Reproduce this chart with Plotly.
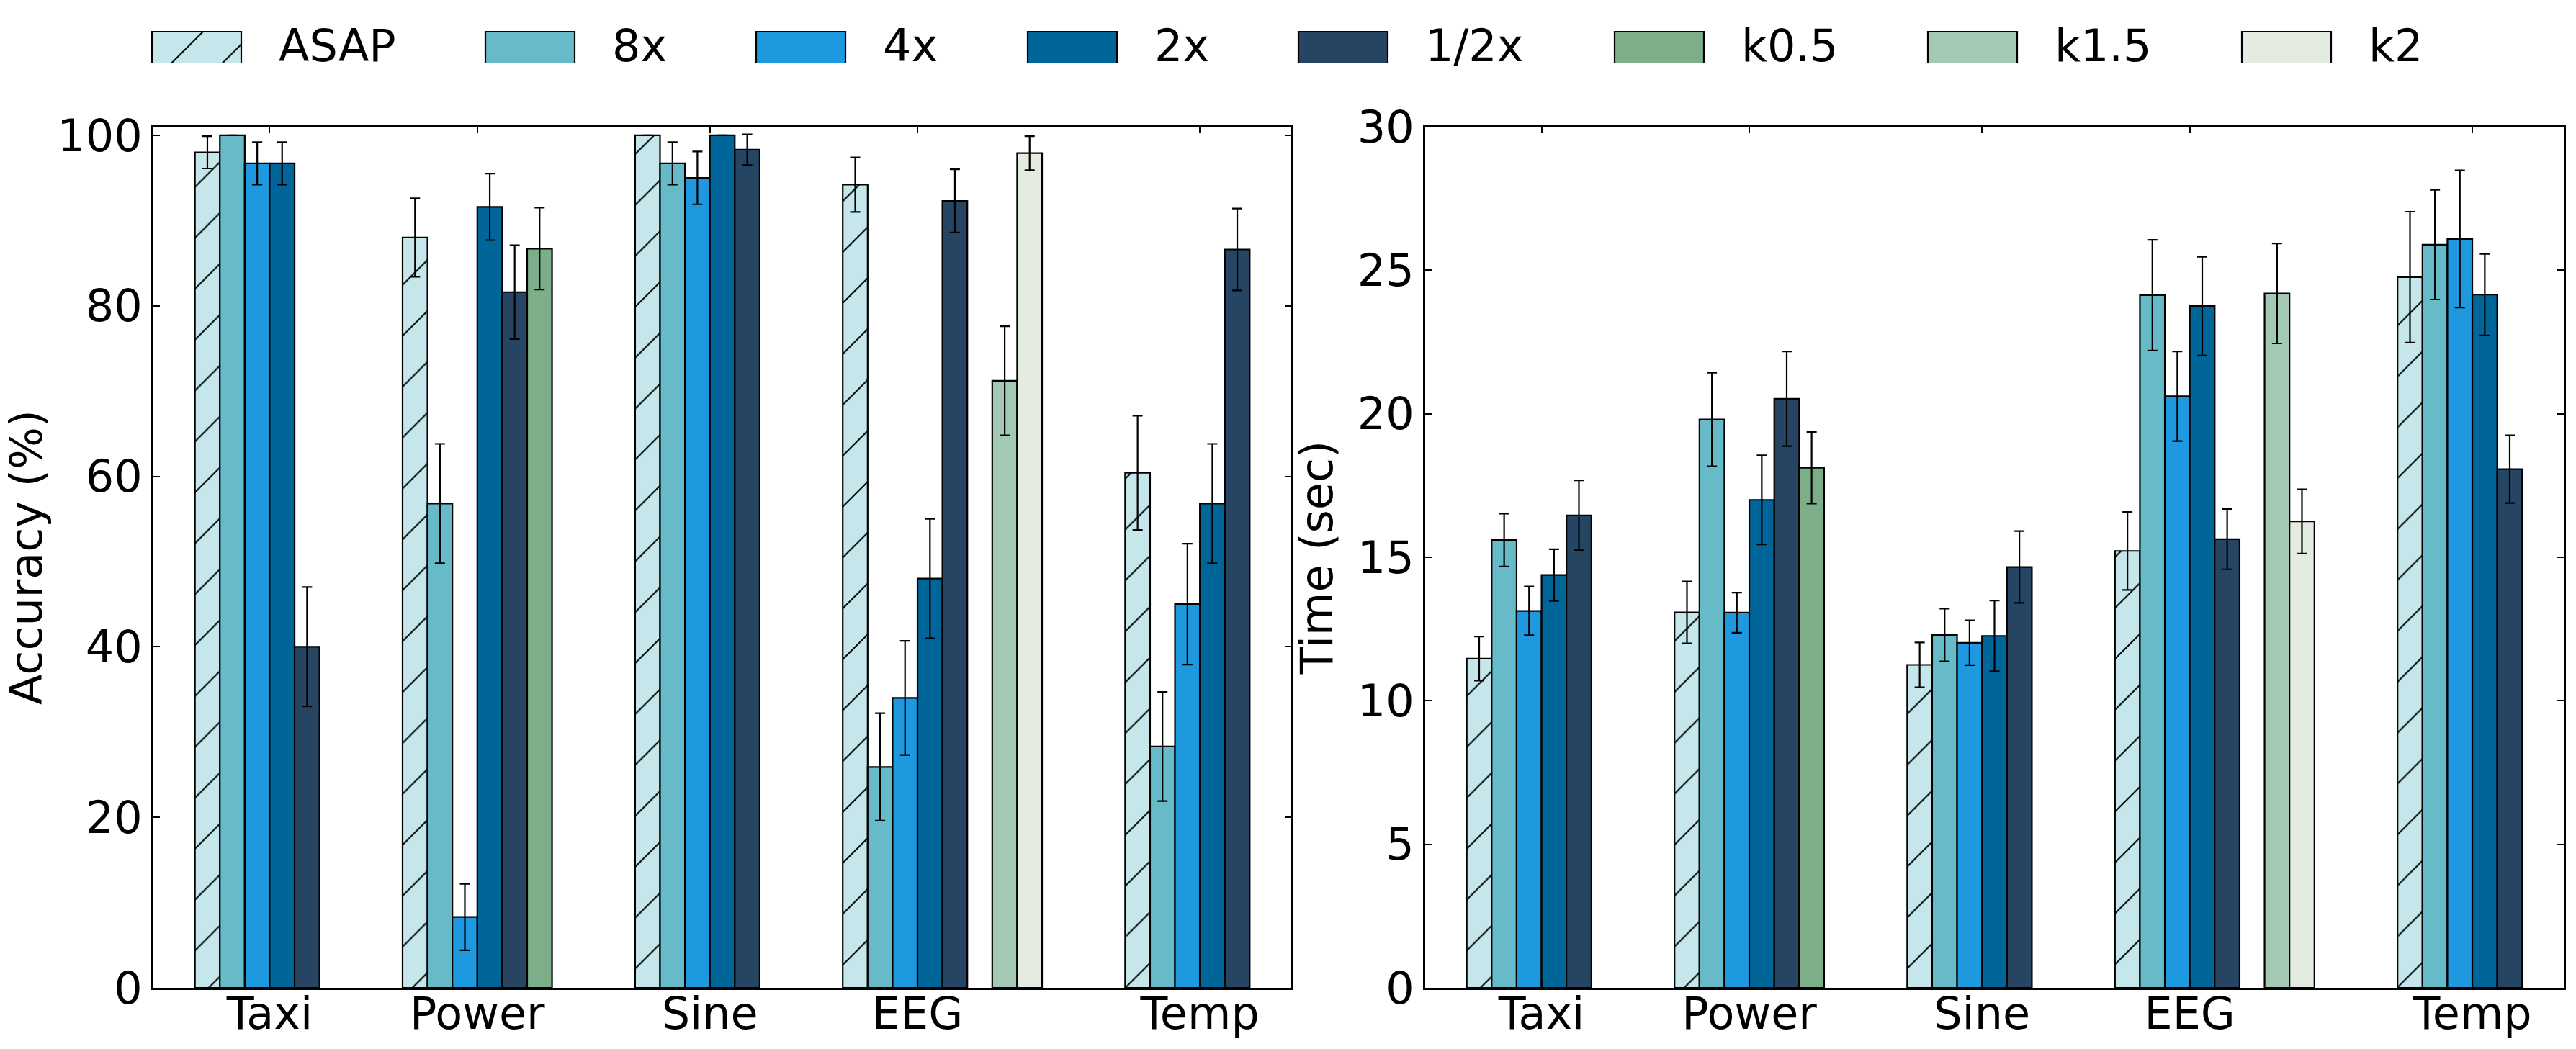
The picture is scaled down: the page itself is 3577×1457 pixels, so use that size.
import plotly.graph_objects as go

W, H = 3577, 1457

categories = ["Taxi", "Power", "Sine", "EEG", "Temp"]
series_names = ["ASAP", "8x", "4x", "2x", "1/2x", "k0.5", "k1.5", "k2"]
series_colors = ["#C5E6EB", "#67BBC8", "#1E98DF", "#006699",
                 "#264563", "#7BAE89", "#A3C9B5", "#E4EBE1"]

# Accuracy (%) per category: Taxi, Power, Sine, EEG, Temp
acc_asap = [98.0, 88.0, 100.0, 94.2, 60.4]
acc_8x = [100.0, 56.8, 96.7, 25.9, 28.3]
acc_4x = [96.7, 8.3, 95.0, 34.0, 45.0]
acc_2x = [96.7, 91.6, 100.0, 48.0, 56.8]
acc_half = [40.0, 81.6, 98.3, 92.3, 86.6]
acc_k05 = [None, 86.7, None, None, None]
acc_k15 = [None, None, None, 71.2, None]
acc_k2 = [None, None, None, 97.9, None]

acc_err_asap = [1.9, 4.6, 0.0, 3.2, 6.7]
acc_err_8x = [0.0, 7.0, 2.5, 6.3, 6.4]
acc_err_4x = [2.5, 3.9, 3.1, 6.7, 7.1]
acc_err_2x = [2.5, 3.9, 0.0, 7.0, 7.0]
acc_err_half = [7.0, 5.5, 1.8, 3.7, 4.8]
acc_err_k05 = [None, 4.8, None, None, None]
acc_err_k15 = [None, None, None, 6.4, None]
acc_err_k2 = [None, None, None, 2.0, None]

# Time (sec)
time_asap = [11.47, 13.08, 11.25, 15.22, 24.76]
time_8x = [15.60, 19.80, 12.29, 24.13, 25.89]
time_4x = [13.13, 13.07, 12.02, 20.61, 26.09]
time_2x = [14.38, 17.00, 12.26, 23.75, 24.15]
time_half = [16.46, 20.52, 14.66, 15.63, 18.07]
time_k05 = [None, 18.12, None, None, None]
time_k15 = [None, None, None, 24.19, None]
time_k2 = [None, None, None, 16.25, None]

time_err_asap = [0.77, 1.08, 0.78, 1.36, 2.28]
time_err_8x = [0.92, 1.63, 0.92, 1.93, 1.91]
time_err_4x = [0.85, 0.70, 0.78, 1.56, 2.39]
time_err_2x = [0.90, 1.55, 1.23, 1.72, 1.42]
time_err_half = [1.22, 1.65, 1.25, 1.05, 1.18]
time_err_k05 = [None, 1.25, None, None, None]
time_err_k15 = [None, None, None, 1.74, None]
time_err_k2 = [None, None, None, 1.12, None]

acc_values = [acc_asap, acc_8x, acc_4x, acc_2x, acc_half, acc_k05, acc_k15, acc_k2]
acc_errors = [acc_err_asap, acc_err_8x, acc_err_4x, acc_err_2x, acc_err_half,
              acc_err_k05, acc_err_k15, acc_err_k2]
time_values = [time_asap, time_8x, time_4x, time_2x, time_half, time_k05, time_k15, time_k2]
time_errors = [time_err_asap, time_err_8x, time_err_4x, time_err_2x, time_err_half,
               time_err_k05, time_err_k15, time_err_k2]

# ---- layout of bar slots (matplotlib-style cumulative placement) ----
BAR_W = 0.3
GROUP_GAP = 1.0
n_slots = []
for ci in range(len(categories)):
    last = 0
    for si in range(len(series_names)):
        if acc_values[si][ci] is not None:
            last = si + 1
    n_slots.append(last)
group_start = [0.0]
for ci in range(1, len(categories)):
    group_start.append(group_start[-1] + n_slots[ci - 1] * BAR_W + GROUP_GAP)
tick_pos = [s + 3 * BAR_W for s in group_start]
x_range = [-0.5, group_start[-1] + n_slots[-1] * BAR_W + 0.5]

FONT = "DejaVu Sans"
FS = 62


def marker_for(si):
    m = dict(color=series_colors[si], line=dict(color="black", width=2.2))
    if si == 0:
        m["pattern"] = dict(shape="/", fgcolor="black", bgcolor=series_colors[0],
                            size=50, solidity=0.04, fillmode="replace")
    return m


fig = go.Figure()

for values, errors, xa, ya in [(acc_values, acc_errors, "x", "y"),
                               (time_values, time_errors, "x2", "y2")]:
    for si, name in enumerate(series_names):
        xs, ys, es = [], [], []
        for ci in range(len(categories)):
            v = values[si][ci]
            if v is None:
                continue
            xs.append(group_start[ci] + si * BAR_W + BAR_W / 2)
            ys.append(v)
            es.append(errors[si][ci])
        fig.add_trace(go.Bar(
            x=xs, y=ys, width=BAR_W, name=name, xaxis=xa, yaxis=ya,
            marker=marker_for(si), showlegend=False,
            error_y=dict(type="data", array=es, visible=True, color="black",
                         thickness=2.2, width=7),
        ))

# ---- custom legend (large handles like matplotlib) ----
legend_left_px = [211, 674, 1050, 1427, 1803, 2242, 2677, 3113]
HANDLE_W = 124
for si, name in enumerate(series_names):
    fig.add_trace(go.Bar(
        x=[legend_left_px[si] + HANDLE_W / 2], y=[1], base=0, width=HANDLE_W,
        xaxis="x3", yaxis="y3", marker=marker_for(si), showlegend=False,
        hoverinfo="skip",
    ))
    fig.add_annotation(
        x=(legend_left_px[si] + HANDLE_W + 50) / W, y=1 - 64 / H,
        xref="paper", yref="paper", xanchor="left", yanchor="middle",
        text=name, showarrow=False, font=dict(family=FONT, size=FS, color="black"),
    )

ydom = [1 - 1372 / H, 1 - 176 / H]
axis_common = dict(showline=True, linecolor="black", linewidth=3, mirror="ticks",
                   ticks="inside", ticklen=9, tickwidth=1.6, tickcolor="black",
                   showgrid=False, zeroline=False, automargin=False,
                   tickfont=dict(family=FONT, size=FS, color="black"))

fig.update_layout(
    width=W, height=H,
    margin=dict(l=0, r=0, t=0, b=0, autoexpand=False),
    paper_bgcolor="white", plot_bgcolor="white",
    barmode="overlay", showlegend=False,
    font=dict(family=FONT, size=FS, color="black"),
    xaxis=dict(domain=[213 / W, 1793 / W], range=x_range, anchor="y",
               tickvals=tick_pos, ticktext=categories, ticklabelstandoff=-20,
               **axis_common),
    yaxis=dict(domain=ydom, range=[0, 101], anchor="x",
               tickvals=[0, 20, 40, 60, 80, 100],
               title=dict(text="Accuracy (%)", standoff=14,
                          font=dict(family=FONT, size=FS, color="black")),
               **axis_common),
    xaxis2=dict(domain=[1979 / W, 3560 / W], range=x_range, anchor="y2",
                tickvals=tick_pos, ticktext=categories, ticklabelstandoff=-20,
                **axis_common),
    yaxis2=dict(domain=ydom, range=[0, 30], anchor="x2",
                tickvals=[0, 5, 10, 15, 20, 25, 30],
                title=dict(text="Time (sec)", standoff=14,
                           font=dict(family=FONT, size=FS, color="black")),
                **axis_common),
    xaxis3=dict(domain=[0, 1], range=[0, W], visible=False, fixedrange=True,
                automargin=False),
    yaxis3=dict(domain=[1 - 88 / H, 1 - 43 / H], range=[0, 1], visible=False,
                fixedrange=True, automargin=False),
)

fig.write_html("out.html")
